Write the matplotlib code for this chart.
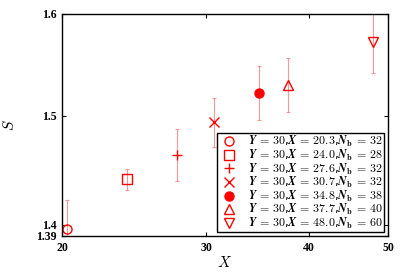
import matplotlib
matplotlib.use('Agg')
import matplotlib.pyplot as plt
from matplotlib.ticker import FixedLocator, FixedFormatter, NullLocator

# Data
x_vals = [20.3, 24.0, 27.6, 30.7, 34.8, 37.7, 48.0]
s_vals = [1.396, 1.441, 1.4635, 1.4937, 1.522, 1.5297, 1.5722]
s_err = [0.026, 0.0095, 0.024, 0.023, 0.026, 0.026, 0.031]
nb_vals = [32, 28, 32, 32, 38, 40, 60]
markers = ['o', 's', '+', 'x', 'o', '^', 'v']
filled = [False, False, True, True, True, False, False]

x_ticks = [20, 30, 40, 50]
y_ticks = [1.39, 1.4, 1.5, 1.6]

plt.rcParams['mathtext.fontset'] = 'cm'

fig = plt.figure(figsize=(4.09, 2.73), dpi=100)
ax = fig.add_axes([62 / 409, 1 - 236 / 273, (388 - 62) / 409, (236 - 14) / 273])

for x, s, e, nb, m, f in zip(x_vals, s_vals, s_err, nb_vals, markers, filled):
    ax.errorbar(x, s, yerr=e, fmt='none', ecolor='#f08080', elinewidth=0.8,
                capsize=1.5, capthick=0.8, alpha=0.8)
    label = (r'$\boldsymbol{Y}\,\mathbf{=}\,\mathbf{30}$,'
             r'$\boldsymbol{X}\,\mathbf{=}\,\mathbf{%.1f}$,'
             r'$\boldsymbol{N}_{\mathbf{b}}\,\mathbf{=}\,\mathbf{%d}$' % (x, nb))
    if m in ('+', 'x'):
        ax.plot(x, s, m, color='red', ms=7, mew=1.0, linestyle='none', label=label)
    elif f:
        ax.plot(x, s, m, color='red', ms=6.5, linestyle='none', label=label)
    else:
        ax.plot(x, s, m, mfc='none', mec='red', ms=6.5, mew=1.0, linestyle='none', label=label)

ax.set_xscale('log')
ax.set_yscale('log')
ax.set_xlim(20, 50)
ax.set_ylim(1.39, 1.6)

tick_font = {'family': 'Liberation Serif', 'weight': 'bold', 'size': 8.5}
ax.xaxis.set_major_locator(FixedLocator(x_ticks))
ax.xaxis.set_major_formatter(FixedFormatter([str(t) for t in x_ticks]))
ax.xaxis.set_minor_locator(NullLocator())
ax.yaxis.set_major_locator(FixedLocator(y_ticks))
ax.yaxis.set_major_formatter(FixedFormatter([str(t) for t in y_ticks]))
ax.yaxis.set_minor_locator(NullLocator())
for lbl in ax.get_xticklabels() + ax.get_yticklabels():
    lbl.set_fontproperties(tick_font)
ax.tick_params(direction='in', top=True, right=True, length=3, width=0.8, pad=4)
for sp in ax.spines.values():
    sp.set_linewidth(1.0)

ax.set_xlabel(r'$X$', fontsize=11, labelpad=1)
ax.set_ylabel(r'$S$', fontsize=11, labelpad=14)

leg = ax.legend(loc='lower right', fontsize=8.6, frameon=True, fancybox=False,
                edgecolor='black', framealpha=1, borderpad=0.12, labelspacing=-0.12,
                handlelength=1.7, handletextpad=0.8, borderaxespad=0.3)
leg.get_frame().set_linewidth(1.0)

fig.savefig('out.png', dpi=100)
